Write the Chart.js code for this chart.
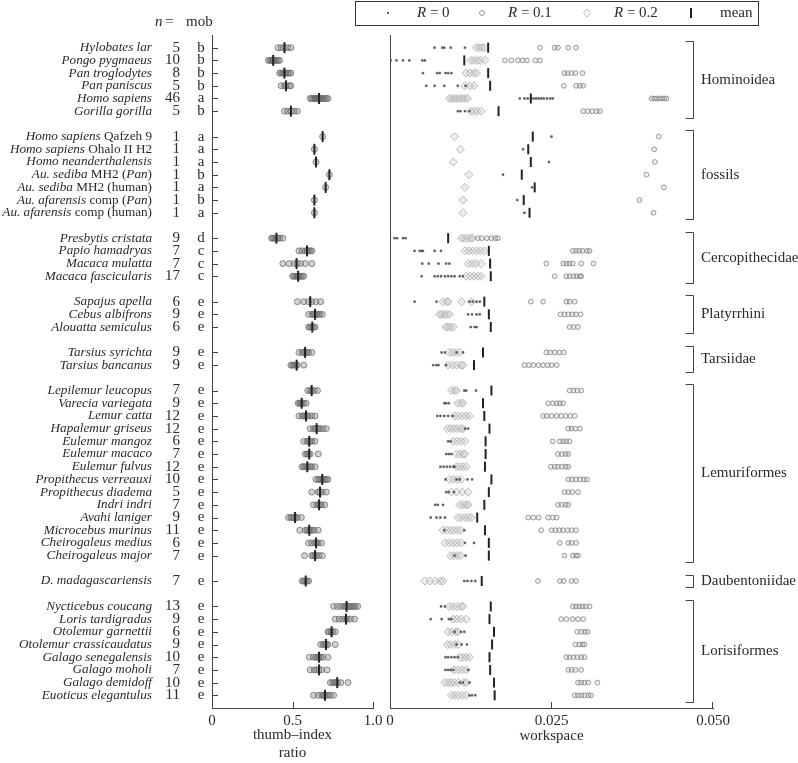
<!DOCTYPE html>
<html>
<head>
<meta charset="utf-8">
<script src="https://cdn.jsdelivr.net/npm/chart.js@4.4.1/dist/chart.umd.min.js"></script>
<style>
  body { margin: 0; background: #fff; }
  #wrap { position: relative; width: 798px; height: 763px; }
  #wrap canvas { position: absolute; left: 0; top: 0; }
</style>
</head>
<body>
<div id="wrap">
  <canvas id="ratio" width="798" height="763"></canvas>
  <canvas id="workspace" width="798" height="763"></canvas>
</div>
<script>
// species rows, *...* marks italic
const species = [
  "*Hylobates lar*", "*Pongo pygmaeus*", "*Pan troglodytes*", "*Pan paniscus*", "*Homo sapiens*", "*Gorilla gorilla*",
  "*Homo sapiens* Qafzeh 9", "*Homo sapiens* Ohalo II H2", "*Homo neanderthalensis*", "*Au. sediba* MH2 (*Pan*)",
  "*Au. sediba* MH2 (human)", "*Au. afarensis* comp (*Pan*)", "*Au. afarensis* comp (human)",
  "*Presbytis cristata*", "*Papio hamadryas*", "*Macaca mulatta*", "*Macaca fascicularis*",
  "*Sapajus apella*", "*Cebus albifrons*", "*Alouatta semiculus*",
  "*Tarsius syrichta*", "*Tarsius bancanus*",
  "*Lepilemur leucopus*", "*Varecia variegata*", "*Lemur catta*", "*Hapalemur griseus*", "*Eulemur mangoz*",
  "*Eulemur macaco*", "*Eulemur fulvus*", "*Propithecus verreauxi*", "*Propithecus diadema*", "*Indri indri*",
  "*Avahi laniger*", "*Microcebus murinus*", "*Cheirogaleus medius*", "*Cheirogaleus major*",
  "*D. madagascariensis*",
  "*Nycticebus coucang*", "*Loris tardigradus*", "*Otolemur garnettii*", "*Otolemur crassicaudatus*",
  "*Galago senegalensis*", "*Galago moholi*", "*Galago demidoff*", "*Euoticus elegantulus*"
];
const nSizes = [5, 10, 8, 5, 46, 5, 1, 1, 1, 1, 1, 1, 1, 9, 7, 7, 17, 6, 9, 6, 9, 9,
  7, 9, 12, 12, 6, 7, 12, 10, 5, 7, 9, 11, 6, 7, 7, 13, 9, 6, 9, 10, 7, 10, 11];
const mob = ["b", "b", "b", "b", "a", "b", "a", "a", "a", "b", "a", "b", "a", "d", "c", "c", "c",
  "e", "e", "e", "e", "e", "e", "e", "e", "e", "e", "e", "e", "e", "e", "e", "e", "e", "e", "e",
  "e", "e", "e", "e", "e", "e", "e", "e", "e"];

const groupNames = ["Hominoidea", "fossils", "Cercopithecidae", "Platyrrhini", "Tarsiidae", "Lemuriformes", "Daubentoniidae", "Lorisiformes"];
const groupSizes = [6, 7, 4, 3, 2, 14, 1, 8];

// thumb-index ratio, individuals and mean
const ratio = [
  [0.41, 0.43, 0.45, 0.47, 0.49],
  [0.35, 0.36, 0.37, 0.38, 0.38, 0.39, 0.40, 0.41, 0.42],
  [0.42, 0.43, 0.44, 0.45, 0.46, 0.47, 0.48, 0.49],
  [0.43, 0.45, 0.46, 0.48, 0.49],
  [0.61, 0.62, 0.63, 0.64, 0.645, 0.65, 0.655, 0.66, 0.665, 0.67, 0.675, 0.68, 0.69, 0.70, 0.71, 0.72],
  [0.45, 0.47, 0.49, 0.51, 0.53],
  [0.687], [0.636], [0.646], [0.729], [0.706], [0.636], [0.636],
  [0.37, 0.38, 0.39, 0.40, 0.41, 0.42, 0.44],
  [0.54, 0.56, 0.58, 0.59, 0.60, 0.61, 0.62],
  [0.44, 0.48, 0.51, 0.53, 0.55, 0.58, 0.62],
  [0.50, 0.51, 0.52, 0.53, 0.535, 0.54, 0.55, 0.56, 0.57],
  [0.53, 0.57, 0.60, 0.62, 0.645, 0.675],
  [0.60, 0.62, 0.63, 0.64, 0.65, 0.66, 0.67, 0.685],
  [0.60, 0.61, 0.62, 0.63, 0.64],
  [0.54, 0.56, 0.57, 0.58, 0.59, 0.60, 0.62],
  [0.49, 0.50, 0.51, 0.52, 0.53, 0.57],
  [0.595, 0.61, 0.62, 0.635, 0.655],
  [0.535, 0.545, 0.55, 0.56, 0.57, 0.585],
  [0.54, 0.56, 0.57, 0.58, 0.59, 0.60, 0.62, 0.64],
  [0.61, 0.63, 0.64, 0.65, 0.66, 0.67, 0.69, 0.71],
  [0.57, 0.59, 0.60, 0.61, 0.62, 0.64],
  [0.58, 0.59, 0.60, 0.61, 0.66],
  [0.56, 0.57, 0.58, 0.59, 0.60, 0.61, 0.62, 0.64],
  [0.645, 0.66, 0.67, 0.68, 0.69, 0.70, 0.71, 0.72],
  [0.62, 0.66, 0.67, 0.685, 0.71],
  [0.63, 0.65, 0.66, 0.67, 0.68, 0.70],
  [0.475, 0.49, 0.50, 0.51, 0.52, 0.53, 0.555],
  [0.545, 0.58, 0.59, 0.60, 0.61, 0.62, 0.635, 0.66],
  [0.60, 0.62, 0.64, 0.65, 0.66, 0.68],
  [0.575, 0.62, 0.63, 0.64, 0.65, 0.665, 0.685],
  [0.56, 0.57, 0.58, 0.59, 0.60],
  [0.755, 0.78, 0.80, 0.82, 0.83, 0.84, 0.85, 0.86, 0.87, 0.88, 0.89, 0.905],
  [0.765, 0.79, 0.81, 0.83, 0.84, 0.86, 0.885],
  [0.72, 0.73, 0.74, 0.75, 0.765],
  [0.675, 0.69, 0.70, 0.71, 0.72, 0.765],
  [0.605, 0.63, 0.645, 0.655, 0.665, 0.675, 0.69, 0.72],
  [0.61, 0.635, 0.65, 0.665, 0.68, 0.715],
  [0.735, 0.75, 0.76, 0.77, 0.78, 0.80, 0.845],
  [0.63, 0.66, 0.68, 0.69, 0.70, 0.71, 0.72, 0.735, 0.755]
];
const ratioMean = [0.45, 0.38, 0.45, 0.46, 0.665, 0.49, 0.687, 0.636, 0.646, 0.729, 0.706, 0.636, 0.636,
  0.40, 0.59, 0.525, 0.535, 0.61, 0.64, 0.623, 0.578, 0.526,
  0.619, 0.557, 0.584, 0.65, 0.604, 0.604, 0.592, 0.685, 0.671, 0.665, 0.516, 0.604, 0.646, 0.64,
  0.582, 0.836, 0.832, 0.743, 0.708, 0.665, 0.665, 0.778, 0.702];

// workspace at R = 0, 0.1, 0.2 and mean
const wsR0 = [
  [0.0069, 0.0081, 0.0084, 0.0094, 0.0116],
  [0.0001, 0.0010, 0.0020, 0.0030, 0.0050, 0.0054],
  [0.0051, 0.0073, 0.0077, 0.0086, 0.0090, 0.0095],
  [0.0056, 0.0069, 0.0084, 0.0105, 0.0117],
  [0.0201, 0.0208, 0.0213, 0.0218, 0.0222, 0.0226, 0.0230, 0.0234, 0.0238, 0.0243, 0.0248, 0.0252],
  [0.0105, 0.0109, 0.0116, 0.0123],
  [0.0250], [0.0206], [0.0246], [0.0175], [0.0220], [0.0197], [0.0208],
  [0.0000, 0.0007, 0.0011, 0.0020, 0.0024],
  [0.0038, 0.0046, 0.0049, 0.0051, 0.0069, 0.0079],
  [0.0050, 0.0060, 0.0075, 0.0087, 0.0092],
  [0.0049, 0.0069, 0.0074, 0.0079, 0.0085, 0.0090, 0.0095, 0.0100, 0.0108, 0.0113],
  [0.0038, 0.0072, 0.0123, 0.0128, 0.0134, 0.0139],
  [0.0121, 0.0127, 0.0134, 0.0139],
  [0.0125, 0.0131, 0.0134],
  [0.0080, 0.0085, 0.0103, 0.0113],
  [0.0067, 0.0072, 0.0075, 0.0087],
  [0.0115, 0.0118, 0.0133],
  [0.0084, 0.0087, 0.0091],
  [0.0073, 0.0078, 0.0084, 0.0090, 0.0097],
  [0.0116, 0.0121],
  [0.0090, 0.0094],
  [0.0087, 0.0091, 0.0095],
  [0.0078, 0.0083, 0.0088, 0.0093, 0.0098, 0.0100],
  [0.0086, 0.0103, 0.0108, 0.0120, 0.0127],
  [0.0087, 0.0091, 0.0099],
  [0.0070, 0.0074, 0.0082],
  [0.0063, 0.0072, 0.0078, 0.0085],
  [0.0084, 0.0115],
  [0.0116, 0.0130],
  [0.0100, 0.0117],
  [0.0115, 0.0120, 0.0126, 0.0132],
  [0.0079, 0.0085],
  [0.0063, 0.0080, 0.0091, 0.0095],
  [0.0100, 0.0110, 0.0115],
  [0.0103, 0.0111, 0.0119],
  [0.0086, 0.0090, 0.0095, 0.0100, 0.0105],
  [0.0086, 0.0090, 0.0094, 0.0098, 0.0121],
  [0.0108, 0.0113, 0.0123],
  [0.0123, 0.0127, 0.0132]
];
const wsR01 = [
  [0.0232, 0.0255, 0.0260, 0.0276, 0.0288],
  [0.0178, 0.0188, 0.0198, 0.0205, 0.0212, 0.0225, 0.0232],
  [0.0270, 0.0275, 0.0281, 0.0287, 0.0298],
  [0.0269, 0.0288, 0.0294, 0.0299],
  [0.0405, 0.0409, 0.0413, 0.0417, 0.0421, 0.0425, 0.0428],
  [0.0299, 0.0306, 0.0313, 0.0320, 0.0325],
  [0.0416], [0.0409], [0.0410], [0.0397], [0.0424], [0.0386], [0.0408],
  [0.0136, 0.0142, 0.0150, 0.0157, 0.0163, 0.0167],
  [0.0283, 0.0288, 0.0293, 0.0298, 0.0305, 0.0309],
  [0.0242, 0.0268, 0.0273, 0.0278, 0.0283, 0.0296, 0.0315],
  [0.0255, 0.0273, 0.0278, 0.0284, 0.0289, 0.0294, 0.0296],
  [0.0218, 0.0237, 0.0273, 0.0278, 0.0286],
  [0.0264, 0.0270, 0.0276, 0.0282, 0.0288, 0.0295],
  [0.0278, 0.0284, 0.0291],
  [0.0242, 0.0248, 0.0255, 0.0262, 0.0269],
  [0.0208, 0.0215, 0.0222, 0.0230, 0.0237, 0.0244, 0.0250, 0.0258],
  [0.0278, 0.0284, 0.0290, 0.0296],
  [0.0245, 0.0252, 0.0258, 0.0263, 0.0268],
  [0.0237, 0.0243, 0.0250, 0.0258, 0.0265, 0.0272, 0.0279, 0.0286],
  [0.0276, 0.0281, 0.0287, 0.0294],
  [0.0252, 0.0263, 0.0268, 0.0273, 0.0278],
  [0.0260, 0.0266, 0.0272, 0.0276],
  [0.0249, 0.0255, 0.0260, 0.0266, 0.0272, 0.0276],
  [0.0276, 0.0282, 0.0288, 0.0294, 0.0300, 0.0305],
  [0.0270, 0.0276, 0.0282, 0.0291],
  [0.0260, 0.0266, 0.0272, 0.0276],
  [0.0214, 0.0222, 0.0230, 0.0245, 0.0252, 0.0258],
  [0.0234, 0.0250, 0.0256, 0.0262, 0.0268, 0.0275, 0.0281, 0.0288],
  [0.0263, 0.0276, 0.0281, 0.0288],
  [0.0270, 0.0283, 0.0288, 0.0291],
  [0.0229, 0.0263, 0.0269, 0.0281, 0.0288],
  [0.0283, 0.0288, 0.0293, 0.0298, 0.0303, 0.0309],
  [0.0265, 0.0273, 0.0283, 0.0291, 0.0299],
  [0.0290, 0.0296, 0.0302, 0.0306],
  [0.0287, 0.0293, 0.0298, 0.0301],
  [0.0273, 0.0278, 0.0284, 0.0290, 0.0296, 0.0301],
  [0.0276, 0.0281, 0.0287, 0.0296],
  [0.0291, 0.0296, 0.0301, 0.0307, 0.0321],
  [0.0286, 0.0291, 0.0296, 0.0301, 0.0307, 0.0311]
];
const wsR02 = [
  [0.0134, 0.0138, 0.0142, 0.0146],
  [0.0125, 0.0130, 0.0135, 0.0140, 0.0147],
  [0.0118, 0.0124, 0.0130, 0.0134],
  [0.0116, 0.0124, 0.0130],
  [0.0092, 0.0096, 0.0100, 0.0104, 0.0108, 0.0112, 0.0116, 0.0120],
  [0.0125, 0.0130, 0.0135, 0.0141],
  [0.0100], [0.0109], [0.0098], [0.0122], [0.0116], [0.0113], [0.0113],
  [0.0111, 0.0115, 0.0120, 0.0125, 0.0128],
  [0.0116, 0.0122, 0.0128, 0.0134, 0.0140, 0.0146],
  [0.0121, 0.0127, 0.0133, 0.0141],
  [0.0118, 0.0124, 0.0130, 0.0136, 0.0141],
  [0.0082, 0.0088, 0.0090, 0.0111, 0.0126],
  [0.0077, 0.0080, 0.0084, 0.0088, 0.0092],
  [0.0087, 0.0090, 0.0094, 0.0098],
  [0.0092, 0.0097, 0.0102, 0.0108],
  [0.0090, 0.0097, 0.0103, 0.0110, 0.0113],
  [0.0095, 0.0100, 0.0103],
  [0.0105, 0.0110, 0.0113],
  [0.0100, 0.0106, 0.0112, 0.0118, 0.0123],
  [0.0089, 0.0094, 0.0099, 0.0104, 0.0110, 0.0113],
  [0.0098, 0.0104, 0.0110, 0.0116],
  [0.0103, 0.0108, 0.0113, 0.0116],
  [0.0103, 0.0108, 0.0113, 0.0118],
  [0.0092, 0.0098, 0.0104, 0.0110],
  [0.0095, 0.0103, 0.0112, 0.0121],
  [0.0108, 0.0113, 0.0118, 0.0121],
  [0.0105, 0.0110, 0.0116, 0.0121, 0.0126],
  [0.0082, 0.0088, 0.0094, 0.0099, 0.0105, 0.0110],
  [0.0085, 0.0092, 0.0098, 0.0104, 0.0110],
  [0.0094, 0.0099, 0.0104, 0.0109],
  [0.0054, 0.0062, 0.0070, 0.0078, 0.0082],
  [0.0092, 0.0098, 0.0104, 0.0110, 0.0113],
  [0.0098, 0.0104, 0.0110, 0.0118],
  [0.0090, 0.0096, 0.0102, 0.0105],
  [0.0089, 0.0094, 0.0100, 0.0105],
  [0.0108, 0.0113, 0.0118, 0.0123],
  [0.0099, 0.0106, 0.0112, 0.0118],
  [0.0085, 0.0090, 0.0095, 0.0100, 0.0106, 0.0114, 0.0118],
  [0.0095, 0.0100, 0.0106, 0.0112, 0.0118]
];
const wsMean = [0.0152, 0.0115, 0.0152, 0.0155, 0.0218, 0.0168,
  0.0221, 0.0214, 0.0218, 0.0204, 0.0224, 0.0207, 0.0216,
  0.0090, 0.0153, 0.0155, 0.0156, 0.0146, 0.0153, 0.0156, 0.0144, 0.0130,
  0.0157, 0.0144, 0.0146, 0.0154, 0.0148, 0.0148, 0.0147, 0.0157, 0.0153, 0.0146, 0.0135, 0.0147, 0.0153, 0.0153,
  0.0142, 0.0156, 0.0154, 0.0161, 0.0158, 0.0154, 0.0155, 0.0161, 0.0162];

const ratioTickStep = 0.5;
const wsTickStep = 0.025;

// row index for each species, one empty row between groups
const rows = [];
let r = 0;
groupSizes.forEach((size) => {
  for (let i = 0; i < size; i++) rows.push(r++);
  r++;
});
const groupSpans = [];
let k = 0;
groupSizes.forEach((size) => {
  groupSpans.push([rows[k], rows[k + size - 1]]);
  k += size;
});

const toPoints = (lists) => lists.flatMap((vals, i) => vals.map((v) => ({ x: v, y: rows[i] })));
const meanPoints = (vals) => vals.map((v, i) => ({ x: v, y: rows[i] }));

const SERIF = "'Liberation Serif', 'Times New Roman', serif";
const INK = "#2a2a2a";
const AXIS = "#444";

function drawMixed(ctx, text, xRight, y, size) {
  const parts = text.split("*");
  const fonts = parts.map((p, i) => (i % 2 ? "italic " : "") + size + "px " + SERIF);
  let total = 0;
  parts.forEach((p, i) => { ctx.font = fonts[i]; total += ctx.measureText(p).width; });
  let x = xRight - total;
  parts.forEach((p, i) => {
    ctx.font = fonts[i];
    ctx.fillText(p, x, y);
    x += ctx.measureText(p).width;
  });
}

function line(ctx, x1, y1, x2, y2) {
  ctx.beginPath();
  ctx.moveTo(x1, y1);
  ctx.lineTo(x2, y2);
  ctx.stroke();
}

const yScale = {
  type: "linear", min: -1, max: 52, reverse: true,
  afterFit: (s) => { s.width = 0; },
  ticks: { display: false },
  grid: { display: false },
  border: { color: AXIS, width: 1 },
};

// labels, header and inward ticks for the left panel
const labelPlugin = {
  id: "labels",
  afterDraw(chart) {
    const { ctx } = chart;
    const { x, y } = chart.scales;
    ctx.save();
    ctx.fillStyle = INK;
    ctx.textBaseline = "middle";
    ctx.textAlign = "left";
    species.forEach((name, i) => {
      const py = y.getPixelForValue(rows[i]);
      drawMixed(ctx, name, 152, py, 13.2);
    });
    ctx.font = "15px " + SERIF;
    ctx.textAlign = "right";
    nSizes.forEach((n, i) => ctx.fillText(String(n), 180, y.getPixelForValue(rows[i])));
    ctx.textAlign = "center";
    mob.forEach((m, i) => ctx.fillText(m, 201, y.getPixelForValue(rows[i])));
    // header
    ctx.textAlign = "left";
    ctx.font = "italic 15px " + SERIF;
    ctx.fillText("n", 155, 22);
    ctx.font = "15px " + SERIF;
    ctx.fillText("=", 165, 22);
    ctx.fillText("mob", 186, 22);
    // inward ticks
    ctx.strokeStyle = AXIS;
    ctx.lineWidth = 1;
    rows.forEach((row) => {
      const py = Math.round(y.getPixelForValue(row)) + 0.5;
      line(ctx, x.left, py, x.left + 6, py);
    });
    [0.5, 1].forEach((v) => {
      const px = Math.round(x.getPixelForValue(v)) + 0.5;
      line(ctx, px, y.bottom, px, y.bottom - 6);
    });
    ctx.restore();
  },
};

// group brackets, legend and inward ticks for the right panel
const groupPlugin = {
  id: "groups",
  afterDraw(chart) {
    const { ctx } = chart;
    const { x, y } = chart.scales;
    ctx.save();
    ctx.strokeStyle = AXIS;
    ctx.lineWidth = 1;
    [0.025, 0.05].forEach((v) => {
      const px = Math.round(x.getPixelForValue(v)) - 0.5;
      line(ctx, px, y.bottom, px, y.bottom - 6);
    });
    ctx.fillStyle = INK;
    ctx.font = "15px " + SERIF;
    ctx.textBaseline = "middle";
    ctx.textAlign = "left";
    const bx = 693.5;
    groupSpans.forEach(([a, b], i) => {
      const top = Math.round(y.getPixelForValue(a - 0.5)) + 0.5;
      const bot = Math.round(y.getPixelForValue(b + 0.5)) + 0.5;
      ctx.beginPath();
      ctx.moveTo(bx - 8, top);
      ctx.lineTo(bx, top);
      ctx.lineTo(bx, bot);
      ctx.lineTo(bx - 8, bot);
      ctx.stroke();
      ctx.fillText(groupNames[i], 701, (top + bot) / 2);
    });
    // legend
    ctx.strokeStyle = "#333";
    ctx.strokeRect(355.5, 1.5, 403, 24);
    const ly = 13;
    ctx.fillStyle = "#555";
    ctx.fillRect(387, ly - 1, 2, 2);
    ctx.strokeStyle = "#999";
    ctx.beginPath();
    ctx.arc(482, ly, 2.5, 0, Math.PI * 2);
    ctx.stroke();
    ctx.strokeStyle = "#bbb";
    ctx.beginPath();
    ctx.moveTo(587, ly - 4); ctx.lineTo(590.5, ly); ctx.lineTo(587, ly + 4); ctx.lineTo(583.5, ly); ctx.closePath();
    ctx.stroke();
    ctx.strokeStyle = "#222";
    ctx.lineWidth = 2;
    line(ctx, 691, ly - 5, 691, ly + 5);
    ctx.fillStyle = INK;
    [["R", " = 0", 417], ["R", " = 0.1", 508], ["R", " = 0.2", 614]].forEach(([it, rest, lx]) => {
      ctx.font = "italic 15px " + SERIF;
      ctx.fillText(it, lx, ly);
      const w = ctx.measureText(it).width;
      ctx.font = "15px " + SERIF;
      ctx.fillText(rest, lx + w, ly);
    });
    ctx.fillText("mean", 720, ly);
    ctx.restore();
  },
};

const tickFont = { family: SERIF, size: 15 };

new Chart(document.getElementById("ratio"), {
  type: "scatter",
  data: {
    datasets: [
      {
        label: "mean",
        data: meanPoints(ratioMean),
        pointStyle: "line", rotation: 90, radius: 5.5,
        borderColor: "#222", borderWidth: 2,
      },
      {
        label: "individuals",
        data: toPoints(ratio),
        pointStyle: "circle", radius: 3,
        borderColor: "rgba(105,105,105,0.75)", backgroundColor: "rgba(120,120,120,0.33)", borderWidth: 1,
      },
    ],
  },
  options: {
    responsive: false, animation: false, events: [],
    layout: { padding: { left: 212, right: 425, top: 35, bottom: 0 } },
    plugins: { legend: { display: false }, tooltip: { enabled: false } },
    scales: {
      x: {
        type: "linear", min: 0, max: 1,
        afterFit: (s) => { s.height = 55; },
        ticks: { stepSize: ratioTickStep, font: tickFont, color: INK, padding: 4,
          callback: (v) => (v === 0 ? "0" : v.toFixed(1)) },
        grid: { display: false, drawTicks: false },
        border: { color: AXIS, width: 1 },
        title: { display: true, text: ["thumb–index", "ratio"], font: tickFont, color: INK, padding: { top: 0, bottom: 1 } },
      },
      y: yScale,
    },
  },
  plugins: [labelPlugin],
});

new Chart(document.getElementById("workspace"), {
  type: "scatter",
  data: {
    datasets: [
      {
        label: "mean",
        data: meanPoints(wsMean),
        pointStyle: "line", rotation: 90, radius: 5,
        borderColor: "#222", borderWidth: 2,
      },
      {
        label: "R = 0",
        data: toPoints(wsR0),
        pointStyle: "rect", radius: 1.3,
        borderColor: "#555", backgroundColor: "#555", borderWidth: 0.5,
      },
      {
        label: "R = 0.1",
        data: toPoints(wsR01),
        pointStyle: "circle", radius: 2.4,
        borderColor: "rgba(130,130,130,0.8)", backgroundColor: "rgba(150,150,150,0.15)", borderWidth: 1,
      },
      {
        label: "R = 0.2",
        data: toPoints(wsR02),
        pointStyle: "rectRot", radius: 4,
        borderColor: "rgba(175,175,175,0.85)", backgroundColor: "rgba(200,200,200,0.3)", borderWidth: 1,
      },
    ],
  },
  options: {
    responsive: false, animation: false, events: [],
    layout: { padding: { left: 390, right: 85, top: 35, bottom: 0 } },
    plugins: { legend: { display: false }, tooltip: { enabled: false } },
    scales: {
      x: {
        type: "linear", min: 0, max: 0.05,
        afterFit: (s) => { s.height = 55; },
        ticks: { stepSize: wsTickStep, font: tickFont, color: INK, padding: 4,
          callback: (v) => (v === 0 ? "0" : v.toFixed(3)) },
        grid: { display: false, drawTicks: false },
        border: { color: AXIS, width: 1 },
        title: { display: true, text: "workspace", font: tickFont, color: INK, padding: { top: 0, bottom: 18 } },
      },
      y: yScale,
    },
  },
  plugins: [groupPlugin],
});
</script>
</body>
</html>
